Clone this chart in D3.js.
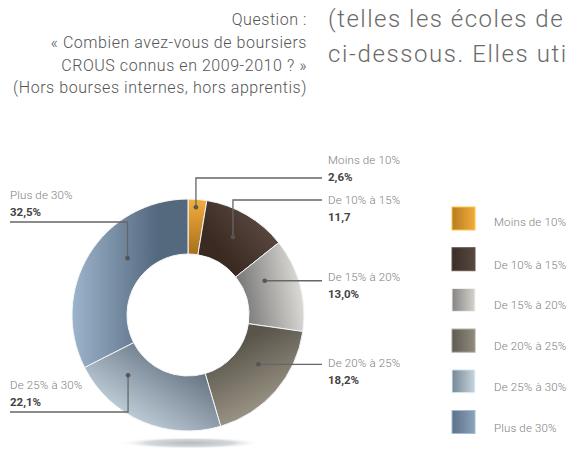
<!DOCTYPE html>
<html>
<head>
<meta charset="utf-8">
<script src="https://cdn.jsdelivr.net/npm/d3@7"></script>
<style>
	body { margin: 0; background: #fff; }
	svg { display: block; font-family: Roboto, "Open Sans", sans-serif; }
</style>
</head>
<body>
<div id="chart"></div>
<script>
var categories = ['Moins de 10%', 'De 10% à 15%', 'De 15% à 20%', 'De 20% à 25%', 'De 25% à 30%', 'Plus de 30%'];
var values = [2.6, 11.7, 13.0, 18.2, 22.1, 32.5];
var valueLabels = ['2,6%', '11,7', '13,0%', '18,2%', '22,1%', '32,5%'];
var questionLines = ['Question :', '« Combien avez-vous de boursiers', 'CROUS connus en 2009-2010 ? »', '(Hors bourses internes, hors apprentis)'];
var bodyLines = ['(telles les écoles de', 'ci-dessous. Elles uti'];

var width = 569,
	height = 450,
	cx = 188,
	cy = 315,
	outerR = 116,
	innerR = 61;

// legend square colours (dark -> light)
var legendColors = [
	['#b67d1f', '#f2ab3c'],
	['#3b2d26', '#584840'],
	['#858585', '#d6d3ce'],
	['#5f5b51', '#908b7e'],
	['#778795', '#c6d5dd'],
	['#5d7188', '#8ca3bc']
];

// slice gradients : [x1, y1, c1, x2, y2, c2] relative to the donut centre
var sliceGrad = [
	[0, -116, '#f4ae3e', 0, -61, '#a86f1c'],
	[35, -60, '#3a2a22', 85, -100, '#5f4e44'],
	[55, -10, '#7a7a7a', 115, -20, '#dddbd6'],
	[55, 25, '#5a554b', 95, 105, '#aba595'],
	[-10, 45, '#6a7886', -55, 115, '#c6d6e0'],
	[-115, -10, '#9bb3cb', -30, -10, '#54687e']
];

// leader layout : where on the slice the dot sits, where the text goes
var leaders = [
	{frac: 0.45, r: 108, side: 'right', lineY: 178, nameY: 160},
	{frac: 0.49, r: 90, side: 'right', lineY: 200, nameY: 200},
	{frac: 0.31, r: 84, side: 'right', lineY: null, nameY: 277},
	{frac: 0.41, r: 86, side: 'right', lineY: null, nameY: 363},
	{frac: 0.77, r: 85, side: 'left', lineY: 412, nameY: 385},
	{frac: 0.60, r: 83, side: 'left', lineY: 222, nameY: 195}
];

var svg = d3.select('#chart').append('svg')
	.attr('width', width)
	.attr('height', height);

var defs = svg.append('defs');

//Header texts
svg.append('g').selectAll('text')
	.data(questionLines)
	.enter().append('text')
	.attr('x', 307)
	.attr('y', function(d, i) { return 25 + i * 22.8; })
	.attr('text-anchor', 'end')
	.attr('font-size', 16)
	.attr('letter-spacing', 0.55)
	.attr('font-weight', 300)
	.attr('fill', '#555')
	.text(function(d) { return d; });

svg.append('g').selectAll('text')
	.data(bodyLines)
	.enter().append('text')
	.attr('x', 328)
	.attr('y', function(d, i) { return 27 + i * 35; })
	.attr('font-size', 24)
	.attr('letter-spacing', function(d, i) { return i === 0 ? 1.5 : 1.6; })
	.attr('font-weight', 300)
	.attr('fill', '#6a6a6a')
	.text(function(d) { return d; });

//Shadow under the donut
var shadow = defs.append('radialGradient').attr('id', 'shadow');
shadow.append('stop').attr('offset', '0%').attr('stop-color', '#b4bac0');
shadow.append('stop').attr('offset', '60%').attr('stop-color', '#d4d8db');
shadow.append('stop').attr('offset', '100%').attr('stop-color', '#fff').attr('stop-opacity', 0);
svg.append('ellipse')
	.attr('cx', cx + 2)
	.attr('cy', 443)
	.attr('rx', 72)
	.attr('ry', 6)
	.attr('fill', 'url(#shadow)');

//Donut
var pie = d3.pie().sort(null).value(function(d) { return d; });
var arcs = pie(values);
var arc = d3.arc().innerRadius(innerR).outerRadius(outerR);

sliceGrad.forEach(function(g, i) {
	var lg = defs.append('linearGradient')
		.attr('id', 'slice' + i)
		.attr('gradientUnits', 'userSpaceOnUse')
		.attr('x1', g[0]).attr('y1', g[1])
		.attr('x2', g[3]).attr('y2', g[4]);
	lg.append('stop').attr('offset', '0%').attr('stop-color', g[2]);
	lg.append('stop').attr('offset', '100%').attr('stop-color', g[5]);
});

var gDonut = svg.append('g')
	.attr('transform', 'translate(' + cx + ',' + cy + ')');

gDonut.selectAll('path')
	.data(arcs)
	.enter().append('path')
	.attr('d', arc)
	.attr('fill', function(d, i) { return 'url(#slice' + i + ')'; })
	.attr('stroke', '#f4f6f8')
	.attr('stroke-width', 1);

//Leader lines, dots and labels
var gLabels = svg.append('g');
arcs.forEach(function(a, i) {
	var l = leaders[i];
	var ang = a.startAngle + (a.endAngle - a.startAngle) * l.frac;
	var dx = cx + l.r * Math.sin(ang),
		dy = cy - l.r * Math.cos(ang);
	var lineY = l.lineY === null ? dy : l.lineY;
	var endX = l.side === 'right' ? 322 : 10;
	var textX = l.side === 'right' ? 328 : 10;

	gLabels.append('path')
		.attr('d', 'M' + dx + ',' + dy + 'V' + lineY + 'H' + endX)
		.attr('fill', 'none')
		.attr('stroke', '#666')
		.attr('stroke-width', 1.3);

	gLabels.append('circle')
		.attr('cx', dx)
		.attr('cy', dy)
		.attr('r', 2.3)
		.attr('fill', '#555');

	gLabels.append('text')
		.attr('x', textX)
		.attr('y', l.nameY)
		.attr('dy', '0.35em')
		.attr('font-size', 11.5)
		.attr('letter-spacing', 0.15)
		.attr('font-weight', 300)
		.attr('fill', '#808080')
		.text(categories[i]);

	gLabels.append('text')
		.attr('x', textX)
		.attr('y', l.nameY + 16.5)
		.attr('dy', '0.35em')
		.attr('font-size', 11.5)
		.attr('font-weight', 'bold')
		.attr('fill', '#444')
		.text(valueLabels[i]);
});

//Legend
var ly = d3.scaleBand()
	.domain(categories)
	.range([207, 207 + 6 * 40.7])
	.paddingInner(0);

legendColors.forEach(function(c, i) {
	var lg = defs.append('linearGradient').attr('id', 'leg' + i);
	lg.append('stop').attr('offset', '0%').attr('stop-color', c[0]);
	lg.append('stop').attr('offset', '100%').attr('stop-color', c[1]);
});

var gLegend = svg.append('g');
var items = gLegend.selectAll('g')
	.data(categories)
	.enter().append('g')
	.attr('transform', function(d) { return 'translate(452,' + ly(d) + ')'; });

items.append('rect')
	.attr('width', 23)
	.attr('height', 23)
	.attr('fill', function(d, i) { return 'url(#leg' + i + ')'; })
	.attr('stroke', function(d, i) { return d3.color(legendColors[i][1]).brighter(0.4); })
	.attr('stroke-width', 1);

items.append('text')
	.attr('x', 42)
	.attr('y', function(d, i) { return i === 0 ? 15 : 17; })
	.attr('dy', '0.35em')
	.attr('font-size', 11.5)
	.attr('letter-spacing', 0.15)
	.attr('font-weight', 300)
	.attr('fill', '#808080')
	.text(function(d) { return d; });
</script>
</body>
</html>
